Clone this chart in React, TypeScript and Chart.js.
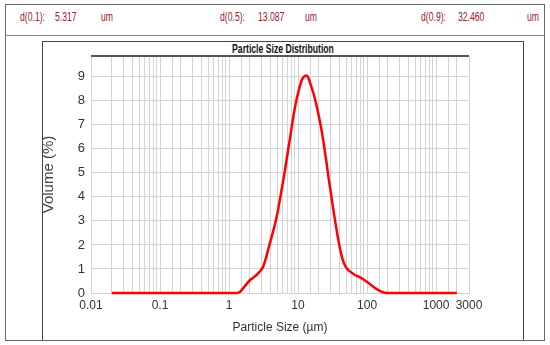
import React, { useEffect, useRef } from "react";
import { Chart, registerables } from "chart.js";
Chart.register(...registerables);

const sizes = [0.02, 0.1, 1.0, 1.3, 1.45, 1.6, 1.8, 2.0, 2.25, 2.5, 2.8, 3.1, 3.4, 3.7, 4.0, 4.4, 4.8, 5.2, 5.6, 6.1, 6.5, 7.0, 7.7, 8.5, 9.6, 10.5, 11.3, 12.2, 13.1, 14.0, 14.9, 16.7, 18.2, 19.7, 21.5, 23.3, 25.5, 27.5, 30.1, 32.5, 35.6, 38.4, 42.0, 45.4, 49.6, 53.6, 60.0, 67.0, 77.0, 88.0, 100, 110, 125, 146, 171, 193, 500, 2000];
const volumes = [0, 0, 0, 0, 0.05, 0.2, 0.38, 0.53, 0.64, 0.75, 0.9, 1.08, 1.42, 1.82, 2.18, 2.62, 3.05, 3.55, 4.07, 4.68, 5.15, 5.75, 6.5, 7.3, 8.1, 8.55, 8.85, 9.0, 9.05, 8.98, 8.75, 8.31, 7.9, 7.45, 6.9, 6.3, 5.55, 4.85, 4.1, 3.45, 2.75, 2.2, 1.65, 1.3, 1.07, 0.95, 0.84, 0.75, 0.67, 0.57, 0.46, 0.37, 0.25, 0.12, 0.03, 0, 0, 0];
const xTickLabels = [0.01, 0.1, 1, 10, 100, 1000, 3000];
const yTicks = [0, 1, 2, 3, 4, 5, 6, 7, 8, 9];
const headerLabels = ["d(0.1):", "d(0.5):", "d(0.9):"];
const headerValues = ["5.317", "13.087", "32.460"];
const headerUnit = "um";

const SANS = "'Liberation Sans', Arial, sans-serif";
const GRID = "#d4d4d4";
const RED_TEXT = "#952028";

const topLinePlugin = {
  id: "topLine",
  afterDraw(chart: any) {
    const { ctx, chartArea } = chart;
    ctx.save();
    ctx.strokeStyle = "#555555";
    ctx.lineWidth = 2;
    ctx.beginPath();
    ctx.moveTo(chartArea.left, chartArea.top);
    ctx.lineTo(chartArea.right, chartArea.top);
    ctx.stroke();
    ctx.restore();
  },
};

export default function App() {
  const ref = useRef<HTMLCanvasElement>(null);
  useEffect(() => {
    if (!ref.current) return;
    const chart = new Chart(ref.current, {
      type: "line",
      data: {
        datasets: [
          {
            data: sizes.map((s, i) => ({ x: s, y: volumes[i] })),
            borderColor: "#ff0000",
            borderWidth: 2.5,
            pointRadius: 0,
            cubicInterpolationMode: "monotone",
            fill: false,
            clip: false as any,
          },
        ],
      },
      options: {
        animation: false,
        responsive: false,
        devicePixelRatio: 1,
        layout: { padding: { left: 40, top: 56, right: 81, bottom: 8 } },
        plugins: { legend: { display: false }, title: { display: false }, tooltip: { enabled: false } },
        scales: {
          x: {
            type: "logarithmic",
            min: 0.01,
            max: 3000,
            afterFit: (s: any) => {
              s.height = 44;
            },
            grid: { color: GRID, drawTicks: false, lineWidth: 1 },
            border: { color: GRID },
            ticks: {
              autoSkip: false,
              maxRotation: 0,
              padding: 5,
              color: "#333",
              font: { family: SANS, size: 12 },
              callback: (v: any) => {
                const val = Number(v);
                const m = xTickLabels.find((t) => Math.abs(t - val) / t < 1e-6);
                return m !== undefined ? String(m) : "";
              },
            },
            title: {
              display: true,
              text: "Particle Size (µm)",
              color: "#333",
              font: { family: SANS, size: 12 },
              padding: { top: 0, bottom: 2 },
            },
          },
          y: {
            min: 0,
            max: 9.86,
            afterBuildTicks: (s: any) => {
              s.ticks = yTicks.map((v) => ({ value: v }));
            },
            afterFit: (s: any) => {
              s.width = 51;
            },
            grid: { color: GRID, drawTicks: false, lineWidth: 1 },
            border: { color: GRID },
            ticks: { padding: 6, color: "#333", font: { family: SANS, size: 13 } },
            title: {
              display: true,
              text: "Volume (%)",
              color: "#444",
              font: { family: SANS, size: 15 },
              padding: 0,
            },
          },
        },
      },
      plugins: [topLinePlugin],
    } as any);
    return () => chart.destroy();
  }, []);

  const hdr = (text: string, left: number, key: string) => (
    <span
      key={key}
      style={{
        position: "absolute",
        left,
        top: 11,
        fontFamily: SANS,
        fontSize: 12,
        lineHeight: "13px",
        color: RED_TEXT,
        whiteSpace: "nowrap",
        transform: "scaleX(0.72)",
        transformOrigin: "left center",
      }}
    >
      {text}
    </span>
  );

  const groups = [
    [20, 55, 101],
    [220, 258, 305],
    [421, 458, 527],
  ];

  return (
    <div style={{ position: "fixed", left: 0, top: 0, width: 550, height: 345, background: "#fff", overflow: "hidden" }}>
      <div style={{ position: "absolute", left: 5, top: 4, width: 538, height: 335, border: "1px solid #666" }} />
      <div style={{ position: "absolute", left: 6, top: 35, width: 538, height: 0, borderTop: "1px solid #888" }} />
      <div style={{ position: "absolute", left: 42, top: 41, width: 480, height: 298, border: "1px solid #444", borderBottom: "none" }} />
      {groups.map((g, i) => [
        hdr(headerLabels[i], g[0], "l" + i),
        hdr(headerValues[i], g[1], "v" + i),
        hdr(headerUnit, g[2], "u" + i),
      ])}
      <div
        style={{
          position: "absolute",
          left: 133,
          width: 300,
          top: 43,
          textAlign: "center",
          fontFamily: SANS,
          fontWeight: "bold",
          fontSize: 12,
          lineHeight: "12px",
          color: "#111",
          transform: "scaleX(0.72)",
          transformOrigin: "center center",
        }}
      >
        Particle Size Distribution
      </div>
      <canvas ref={ref} width={550} height={345} style={{ position: "absolute", left: 0, top: 0 }} />
    </div>
  );
}
